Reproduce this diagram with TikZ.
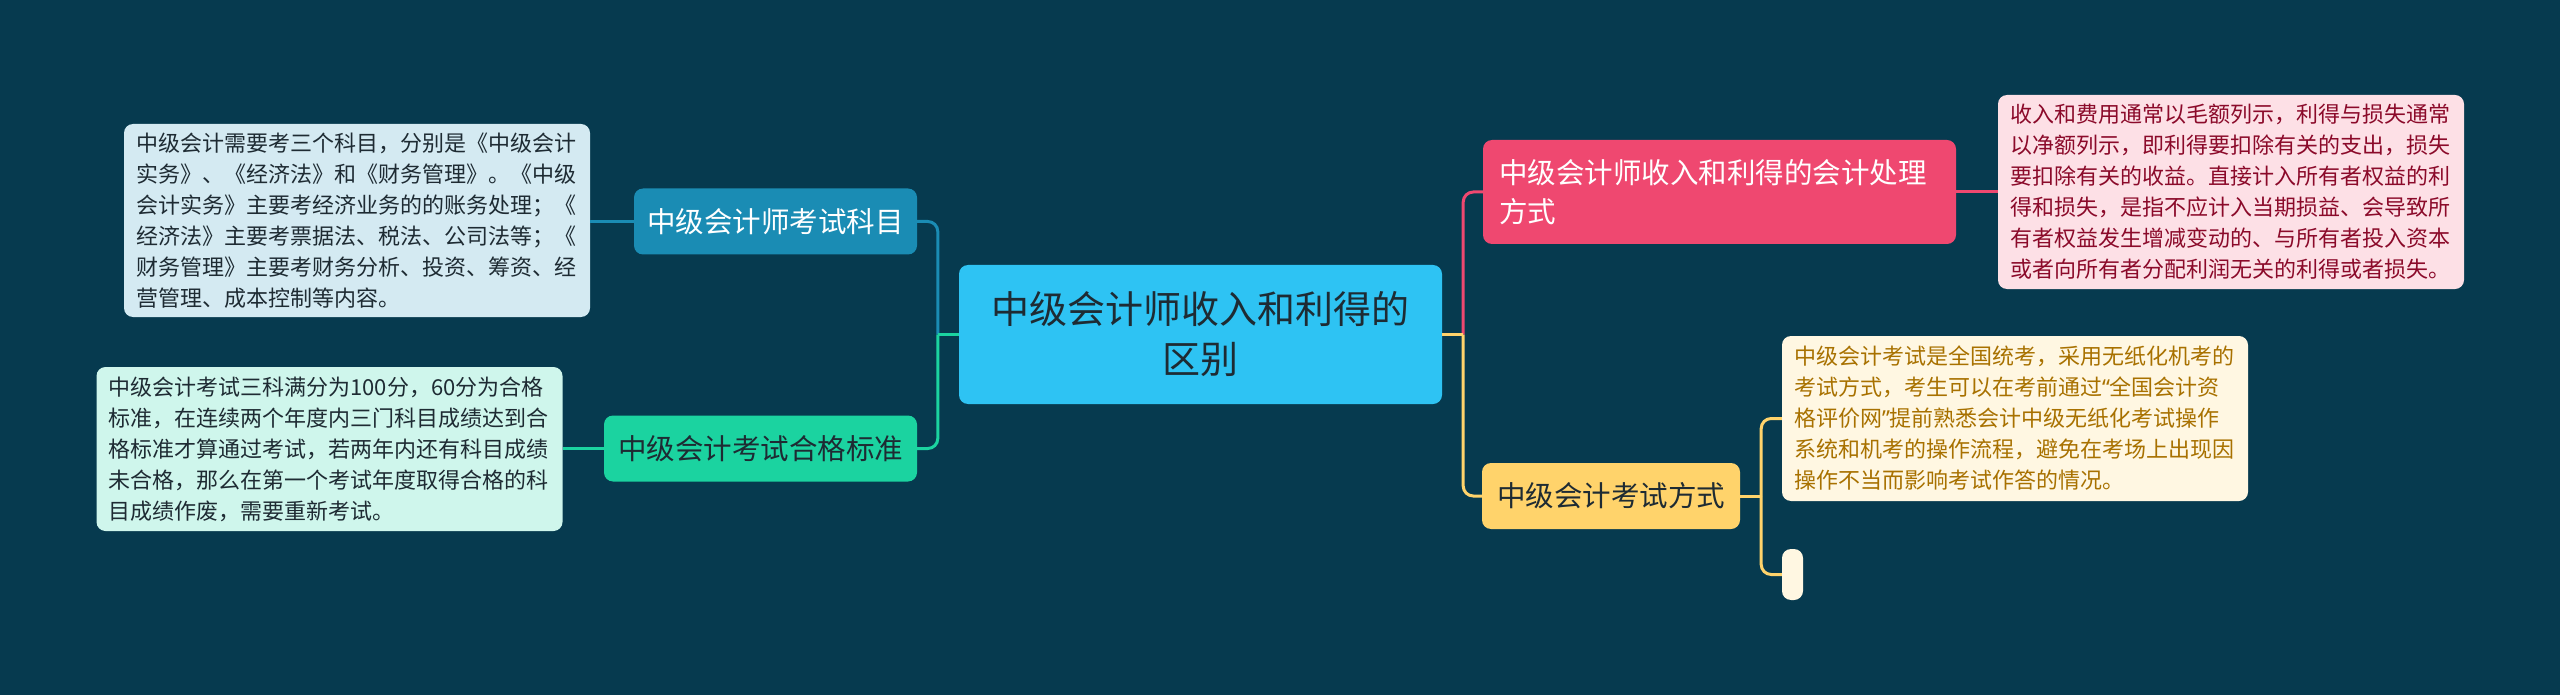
\documentclass[tikz,border=0pt]{standalone}
\usepackage{fontspec}
\setmainfont{Noto Sans CJK SC}
\newfontfamily\quotefont{Noto Sans}
\usetikzlibrary{positioning,calc}
\definecolor{bgc}{HTML}{063A4F}
\definecolor{rootc}{HTML}{2EC3F3}
\definecolor{bluec}{HTML}{1A8CB4}
\definecolor{bluelt}{HTML}{D4EAF2}
\definecolor{greenc}{HTML}{1BD3A0}
\definecolor{greenlt}{HTML}{CFF6EC}
\definecolor{pinkc}{HTML}{EF4870}
\definecolor{pinklt}{HTML}{FDE0E6}
\definecolor{pinktx}{HTML}{8B0A2A}
\definecolor{yellowc}{HTML}{FFD36B}
\definecolor{yellowlt}{HTML}{FFF7E2}
\definecolor{yellowtx}{HTML}{A87100}
\definecolor{darktx}{HTML}{1E2B33}

\begin{document}
\begin{tikzpicture}[x=1pt,y=-1pt,
  box/.style={rounded corners=9pt, inner ysep=0pt, anchor=center},
  rootbox/.style={box, fill=rootc, text=darktx, font=\fontsize{38}{50}\selectfont,
    align=center, minimum width=483pt, minimum height=139pt},
  branch/.style={box, font=\fontsize{28.5}{39}\selectfont, minimum height=66pt},
  leaf/.style={box, font=\fontsize{22}{31}\selectfont, align=left,
    inner xsep=12pt, text width=442pt},
  link/.style={line width=3pt, rounded corners=10pt}]
% background and frame
\fill[bgc] (0,0) rectangle (2560,695);
\useasboundingbox (0,0) rectangle (2560,695);
% root
\node[rootbox] (root) at (1200.5,334.5) {中级会计师收入和利得的\\区别};
% left branches
\node[branch, fill=bluec, text=white, minimum width=283pt] (exam) at (775.5,221.5) {中级会计师考试科目};
\node[branch, fill=greenc, text=darktx, minimum width=313pt] (pass) at (760.5,448.5) {中级会计考试合格标准};
\node[leaf, fill=bluelt, text=darktx, minimum height=193pt] (examnote) at (357,220.5)
  {中级会计需要考三个科目，分别是《中级会计\\实务》、《经济法》和《财务管理》。《中级\\会计实务》主要考经济业务的的账务处理；《\\经济法》主要考票据法、税法、公司法等；《\\财务管理》主要考财务分析、投资、筹资、经\\营管理、成本控制等内容。};
\node[leaf, fill=greenlt, text=darktx, minimum height=164pt] (passnote) at (329.5,449)
  {中级会计考试三科满分为100分，60分为合格\\标准，在连续两个年度内三门科目成绩达到合\\格标准才算通过考试，若两年内还有科目成绩\\未合格，那么在第一个考试年度取得合格的科\\目成绩作废，需要重新考试。};
% right branches
\node[branch, fill=pinkc, text=white, align=left, inner xsep=16pt, text width=441pt,
  minimum height=104pt] (acct) at (1719.5,192) {中级会计师收入和利得的会计处理\\方式};
\node[branch, fill=yellowc, text=darktx, minimum width=258pt] (mode) at (1611,496) {中级会计考试方式};
\node[leaf, fill=pinklt, text=pinktx, minimum height=194pt] (acctnote) at (2231,192)
  {收入和费用通常以毛额列示，利得与损失通常\\以净额列示，即利得要扣除有关的支出，损失\\要扣除有关的收益。直接计入所有者权益的利\\得和损失，是指不应计入当期损益、会导致所\\有者权益发生增减变动的、与所有者投入资本\\或者向所有者分配利润无关的利得或者损失。};
\node[leaf, fill=yellowlt, text=yellowtx, minimum height=165pt] (modenote) at (2015,418.5)
  {中级会计考试是全国统考，采用无纸化机考的\\考试方式，考生可以在考前通过{\quotefont “}全国会计资\\格评价网{\quotefont ”}提前熟悉会计中级无纸化考试操作\\系统和机考的操作流程，避免在考场上出现因\\操作不当而影响考试作答的情况。};
\node[box, fill=yellowlt, inner sep=0pt, minimum width=21pt, minimum height=51pt] (modeblank) at (1792.5,574.5) {};
% junctions
\coordinate (jl) at ($(root.west)+(-21,0)$);
\coordinate (jr) at ($(root.east)+(21,0)$);
\coordinate (jm) at ($(mode.east)+(21,0)$);
% connectors
\draw[link, bluec] (jl) |- (exam.east);
\draw[link, greenc] (jl) |- (pass.east);
\draw[link, greenc] (root.west) -- (jl);
\draw[link, pinkc] (jr) |- (acct.west);
\draw[link, yellowc] (jr) |- (mode.west);
\draw[link, yellowc] (root.east) -- (jr);
\draw[link, bluec] (exam.west) -- (exam.west -| examnote.east);
\draw[link, greenc] (pass.west) -- (pass.west -| passnote.east);
\draw[link, pinkc] (acct.east) -- (acct.east -| acctnote.west);
\draw[link, yellowc] (jm) |- (modenote.west);
\draw[link, yellowc] (jm) |- (modeblank.west);
\draw[link, yellowc] (mode.east) -- (jm);
\end{tikzpicture}
\end{document}
